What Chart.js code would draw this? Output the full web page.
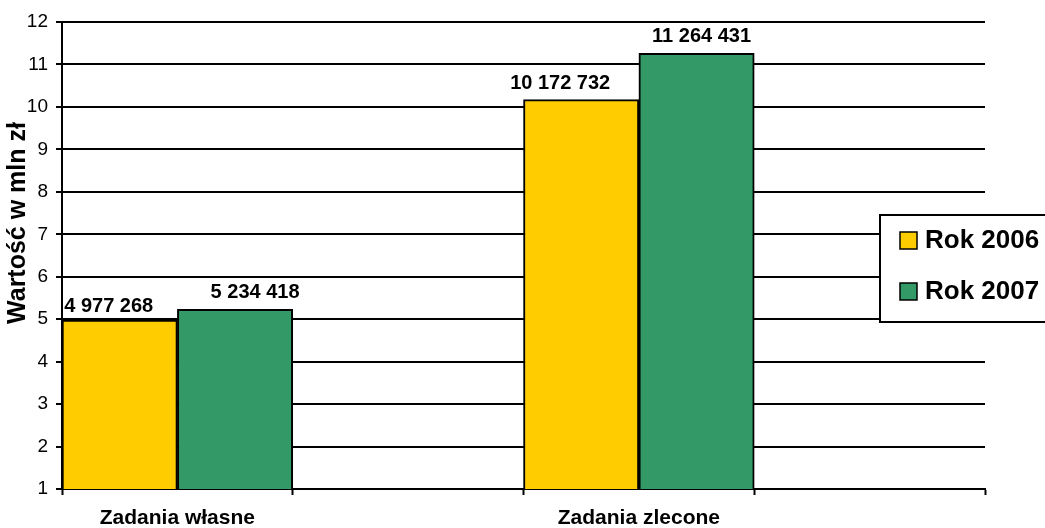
<!DOCTYPE html>
<html>
<head>
<meta charset="utf-8">
<script src="https://cdn.jsdelivr.net/npm/chart.js@4.4.1/dist/chart.umd.min.js"></script>
<style>
  html, body { margin: 0; padding: 0; background: #ffffff; }
  #wrap { width: 1045px; height: 528px; position: relative; }
</style>
</head>
<body>
<div id="wrap"><canvas id="c"></canvas></div>
<script>
// ---- data ----
const categories = ['Zadania własne', 'Zadania zlecone'];
const seriesNames = ['Rok 2006', 'Rok 2007'];
const values2006 = [4977268, 10172732];
const values2007 = [5234418, 11264431];
const yTicks = [1, 2, 3, 4, 5, 6, 7, 8, 9, 10, 11, 12];
const axisTitle = 'Wartość w mln zł';

// ---- styling ----
const FONT = "'Liberation Sans', Arial, sans-serif";
const colors = ['#FFCC00', '#339966'];
const labelShiftX = [[-11, -21], [20, 5]];
const labelGap = [[8, 11], [11, 11]];

// Each category occupies two slots: bars in the first, empty second slot
const slotLabels = [];
categories.forEach(c => { slotLabels.push(c); slotLabels.push(''); });
function toSlots(arr) {
  const out = [];
  arr.forEach(v => { out.push(v / 1e6); out.push(null); });
  return out;
}
const fmt = v => String(v).replace(/\B(?=(\d{3})+(?!\d))/g, ' ');
const rawSeries = [values2006, values2007];

const datasets = rawSeries.map((vals, i) => ({
  label: seriesNames[i],
  data: toSlots(vals),
  backgroundColor: colors[i],
  borderColor: '#000',
  borderWidth: 2,
  borderSkipped: 'bottom',
  barPercentage: 1,
  categoryPercentage: 1
}));

const extrasPlugin = {
  id: 'extras',
  afterDatasetsDraw(chart) {
    const ctx = chart.ctx;
    ctx.save();
    ctx.font = "bold 20px " + FONT;
    ctx.fillStyle = '#000';
    ctx.textAlign = 'center';
    ctx.textBaseline = 'alphabetic';
    chart.data.datasets.forEach((ds, di) => {
      const meta = chart.getDatasetMeta(di);
      let k = 0;
      meta.data.forEach((el, idx) => {
        if (ds.data[idx] == null) return;
        const raw = rawSeries[di][k];
        ctx.fillText(fmt(raw), el.x + labelShiftX[di][k], el.y - labelGap[di][k]);
        k++;
      });
    });
    ctx.restore();
  },
  afterDraw(chart) {
    const ctx = chart.ctx;
    ctx.save();
    // axis title
    ctx.translate(18.5, 223);
    ctx.rotate(-Math.PI / 2);
    ctx.font = "bold 25px " + FONT;
    ctx.fillStyle = '#000';
    ctx.textAlign = 'center';
    ctx.textBaseline = 'middle';
    ctx.fillText(axisTitle, 0, 0);
    ctx.restore();

    // legend (box runs past the right edge of the canvas, as in the original)
    ctx.save();
    const lx = 880, ly = 215, lw = 200, lh = 107;
    ctx.fillStyle = '#fff';
    ctx.fillRect(lx, ly, lw, lh);
    ctx.lineWidth = 2;
    ctx.strokeStyle = '#000';
    ctx.strokeRect(lx, ly, lw, lh);
    ctx.font = "bold 26px " + FONT;
    ctx.textAlign = 'left';
    ctx.textBaseline = 'middle';
    chart.data.datasets.forEach((ds, i) => {
      const cy = 240.5 + i * 51;
      ctx.fillStyle = ds.backgroundColor;
      ctx.fillRect(900, cy - 8.5, 17, 17);
      ctx.lineWidth = 1.5;
      ctx.strokeStyle = '#000';
      ctx.strokeRect(900, cy - 8.5, 17, 17);
      ctx.fillStyle = '#000';
      ctx.fillText(ds.label, 925, cy);
    });
    ctx.restore();
  }
};

new Chart(document.getElementById('c'), {
  type: 'bar',
  data: { labels: slotLabels, datasets },
  options: {
    responsive: true,
    maintainAspectRatio: false,
    devicePixelRatio: 1,
    animation: false,
    layout: { padding: { top: 22, right: 60, left: 0, bottom: 0 } },
    plugins: { legend: { display: false }, tooltip: { enabled: false } },
    scales: {
      x: {
        offset: true,
        grid: {
          offset: true,
          drawOnChartArea: false,
          drawTicks: true,
          tickLength: 6,
          tickColor: '#000',
          tickWidth: 2,
          color: '#000'
        },
        border: { display: true, color: '#000', width: 2 },
        ticks: {
          color: '#000',
          font: { family: FONT, size: 21, weight: 'bold' },
          padding: 11,
          maxRotation: 0,
          autoSkip: false
        },
        afterFit(scale) { scale.height = 39; }
      },
      y: {
        min: yTicks[0],
        max: yTicks[yTicks.length - 1],
        afterBuildTicks(scale) { scale.ticks = yTicks.map(v => ({ value: v })); },
        grid: {
          color: '#000',
          lineWidth: 2,
          tickLength: 6,
          tickColor: '#000',
          tickWidth: 2
        },
        border: { display: true, color: '#000', width: 2 },
        ticks: {
          color: '#000',
          font: { family: FONT, size: 19 },
          padding: 8
        },
        afterFit(scale) { scale.width = 62; }
      }
    }
  },
  plugins: [extrasPlugin]
});
</script>
</body>
</html>
